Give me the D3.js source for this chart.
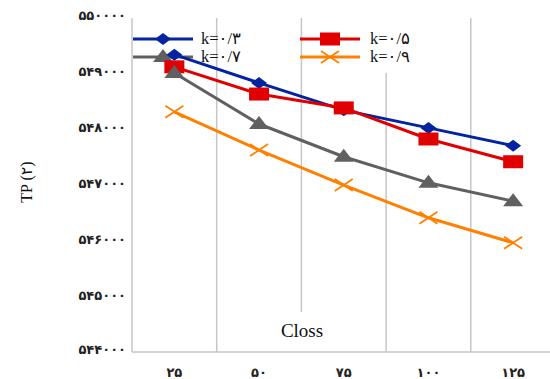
<!DOCTYPE html>
<html><head><meta charset="utf-8">
<script src="https://cdn.jsdelivr.net/npm/d3@7/dist/d3.min.js"></script>
<style>
body{margin:0;background:#fff;}
svg{display:block;}
</style></head>
<body>
<svg id="chart" width="550" height="379"></svg>
<script>
const categories = ["۲۵","۵۰","۷۵","۱۰۰","۱۲۵"];
const k03 = [549340, 548830, 548340, 548020, 547700];
const k05 = [549120, 548630, 548380, 547820, 547410];
const k07 = [549010, 548090, 547500, 547030, 546700];
const k09 = [548310, 547620, 546990, 546400, 545950];
const yTickValues = [544000, 545000, 546000, 547000, 548000, 549000, 550000];
const yTickLabels = ["۵۴۴۰۰۰","۵۴۵۰۰۰","۵۴۶۰۰۰","۵۴۷۰۰۰","۵۴۸۰۰۰","۵۴۹۰۰۰","۵۵۰۰۰۰"];
const seriesNames = ["k=۰/۳","k=۰/۵","k=۰/۷","k=۰/۹"];
const xTitle = "Closs";
const yTitle = "TP (۲)";

const colors = ["#0323A0","#E00000","#606060","#FF8000"];
const shapes = ["diamond","square","triangle","cross"];
const series = [k03,k05,k07,k09];

const svg = d3.select("#chart");
const L = 132, R = 555.5, T = 18, B = 352;
const x = d3.scaleBand().domain(categories).range([L, R]).padding(0);
const y = d3.scaleLinear().domain([544000, 550000]).range([351, T]);
const cx = c => x(c) + x.bandwidth()/2;

const serif = "'Liberation Serif','Times New Roman','DejaVu Sans',serif";
const gridColor = "#c6c6c6";

// vertical gridlines at band boundaries
const g = svg.append("g");
categories.forEach((c,i) => {
  const xx = x(c);
  let y1 = T, y2 = B;
  if (i === 2) { y2 = 312; }
  if (i === 3) { y1 = 73; }
  g.append("line").attr("x1", xx).attr("x2", xx).attr("y1", y1).attr("y2", y2)
    .attr("stroke", gridColor).attr("stroke-width", 1.5);
});
// bottom axis line
g.append("line").attr("x1", L).attr("x2", 550).attr("y1", B).attr("y2", B)
  .attr("stroke", gridColor).attr("stroke-width", 1.5);

// y tick labels
const yAxis = svg.append("g");
yTickValues.forEach((v,i) => {
  yAxis.append("text").attr("x", 126).attr("y", y(v) - i*0.5 + (i===0 ? -2 : 0))
    .attr("dy", "0.35em").attr("text-anchor", "end")
    .attr("font-family", "'DejaVu Sans',sans-serif").attr("font-size", 13)
    .attr("font-weight", "bold").attr("fill", "#222").text(yTickLabels[i]);
});
// x tick labels
categories.forEach(c => {
  svg.append("text").attr("x", cx(c)).attr("y", 372).attr("dy", "0.35em")
    .attr("text-anchor", "middle").attr("font-family", "'DejaVu Sans',sans-serif")
    .attr("font-size", 13).attr("font-weight", "bold").attr("fill", "#222").text(c);
});

// titles
svg.append("text").attr("x", 302).attr("y", 337).attr("text-anchor", "middle")
  .attr("font-family", serif).attr("font-size", 19).attr("fill", "#111").text(xTitle);
svg.append("text").attr("transform", "translate(32,182) rotate(-90)").attr("text-anchor", "middle")
  .attr("font-family", serif).attr("font-size", 16).attr("fill", "#111").text(yTitle);

function marker(sel, shape, px, py, color) {
  if (shape === "diamond") {
    sel.append("path").attr("d", `M${px-8},${py} L${px},${py-6} L${px+8},${py} L${px},${py+6} Z`).attr("fill", color);
  } else if (shape === "square") {
    sel.append("rect").attr("x", px-10).attr("y", py-6.5).attr("width", 20).attr("height", 13).attr("fill", color);
  } else if (shape === "triangle") {
    sel.append("path").attr("d", `M${px},${py-8} L${px+10},${py+5} L${px-10},${py+5} Z`).attr("fill", color);
  } else if (shape === "cross") {
    sel.append("path").attr("d", `M${px-9},${py-6} L${px+9},${py+6} M${px-9},${py+6} L${px+9},${py-6}`)
      .attr("stroke", color).attr("stroke-width", 1.8).attr("fill", "none");
  }
}

// legend
const legendItems = [
  {i:0, lx:133, ly:39, tx:201},
  {i:1, lx:300, ly:39, tx:370},
  {i:2, lx:133, ly:57, tx:201},
  {i:3, lx:300, ly:57, tx:370}
];
const leg = svg.append("g");
legendItems.forEach(d => {
  leg.append("line").attr("x1", d.lx).attr("x2", d.lx+60).attr("y1", d.ly).attr("y2", d.ly)
    .attr("stroke", colors[d.i]).attr("stroke-width", 3);
  marker(leg, shapes[d.i], d.lx+30, d.ly, colors[d.i]);
  leg.append("text").attr("x", d.tx).attr("y", d.ly+4.5).attr("font-family", serif)
    .attr("font-size", 16.5).attr("fill", "#111").text(seriesNames[d.i]);
});

// series lines + markers
const line = d3.line().x((d,i) => cx(categories[i])).y(d => y(d));
series.forEach((s, si) => {
  const gg = svg.append("g");
  gg.append("path").datum(s).attr("d", line).attr("fill", "none")
    .attr("stroke", colors[si]).attr("stroke-width", 3).attr("stroke-linejoin", "round");
  s.forEach((v,i) => marker(gg, shapes[si], cx(categories[i]), y(v), colors[si]));
});
</script>
</body></html>
